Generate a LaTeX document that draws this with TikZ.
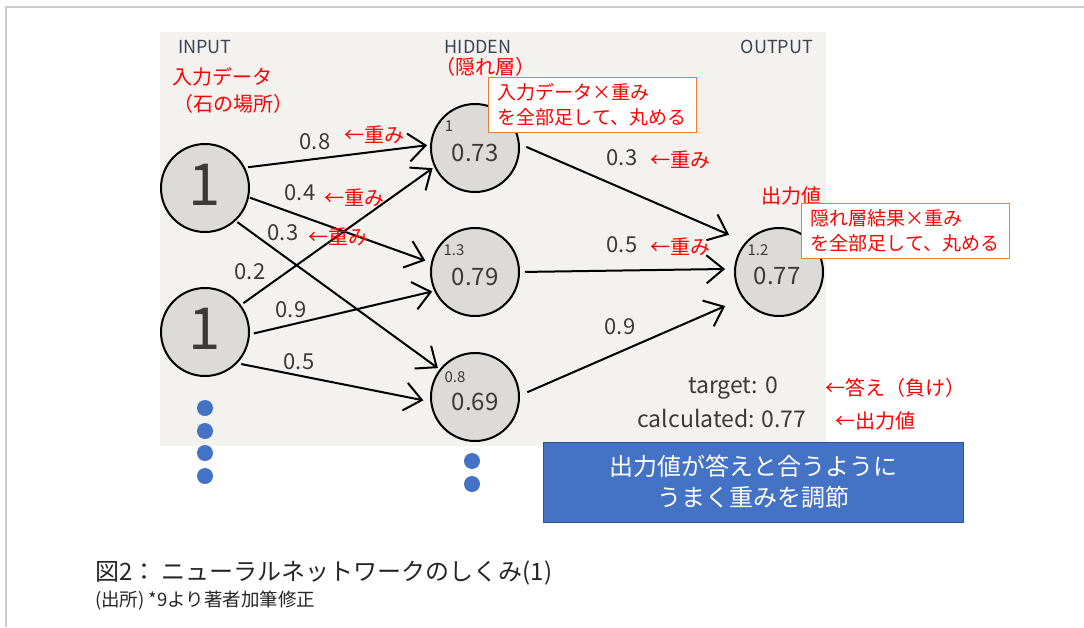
\documentclass[tikz,border=0pt]{standalone}
\usepackage{fontspec}
\setmainfont{Noto Sans CJK JP}
\usetikzlibrary{arrows.meta}

\definecolor{panelgray}{HTML}{F3F2EF}
\definecolor{nodegray}{HTML}{DCDBD8}
\definecolor{framegray}{HTML}{CBCBCB}
\definecolor{labelgray}{HTML}{3A3A3A}
\definecolor{headgray}{HTML}{3B4252}
\definecolor{boxorange}{HTML}{ED7D31}
\definecolor{boxblue}{HTML}{4472C4}
\definecolor{notered}{HTML}{FF0000}

\newcommand{\fsz}[2]{\fontsize{#1}{#2}\selectfont}

\begin{document}
\begin{tikzpicture}[x=1pt, y=-1pt,
    unit/.style={circle, draw=black, line width=2pt, fill=nodegray, minimum size=88pt, inner sep=0pt},
    wlink/.style={-{Straight Barb[length=17pt,width=28pt]}, line width=2pt},
    value/.style={text=labelgray, font=\fsz{24}{28}},
    wlabel/.style={text=labelgray, font=\fsz{22}{26}},
    bias/.style={text=labelgray, font=\fsz{15}{17}},
    note/.style={text=notered, font=\fsz{20}{24}},
    head/.style={text=headgray, font=\fsz{18}{22}},
    notebox/.style={draw=boxorange, line width=1.2pt, fill=white, text=notered, font=\fsz{19}{25},
      align=left, text width=190pt, inner xsep=9pt, inner ysep=2pt, minimum height=55pt},
    dot/.style={circle, fill=boxblue, minimum size=16pt, inner sep=0pt}]
    \useasboundingbox (0,0) rectangle (1084,627);

    % ===== frame and panel =====
    \draw[framegray, line width=1.5pt] (6,627) -- (6,7) -- (1084,7);
    \fill[panelgray] (160,32) rectangle (826,446);

    % ===== layer heads =====
    \node[head] (inhead) at (205,47) {INPUT};
    \node[head] (hidhead) at (478,47) {HIDDEN};
    \node[head] (outhead) at (777,47) {OUTPUT};
    \node[note] (indata) at (222,77) {入力データ};
    \node[note] (inplace) at (233,104) {（石の場所）};
    \node[note] (hidname) at (485,67) {（隠れ層）};

    % ===== input =====
    \def\xI{205}
    \node[unit] (i1) at (\xI,188) {};
    \node[text=labelgray, font=\fsz{58}{62}] (i1v) at (\xI,185) {1};
    \node[unit] (i2) at (\xI,332) {};
    \node[text=labelgray, font=\fsz{58}{62}] (i2v) at (\xI,329) {1};
    \foreach \y [count=\k] in {408,431,453,476}
        \node[dot] (idot\k) at (\xI,\y) {};

    % ===== hidden =====
    \def\xH{475}
    \node[unit] (h1) at (\xH,148) {};
    \node[value] (h1v) at (\xH,153) {0.73};
    \node[bias] (h1b) at (449,126) {1};
    \node[unit] (h2) at (\xH,272) {};
    \node[value] (h2v) at (\xH,277) {0.79};
    \node[bias] (h2b) at (454,250) {1.3};
    \node[unit] (h3) at (\xH,397) {};
    \node[value] (h3v) at (\xH,402) {0.69};
    \node[bias] (h3b) at (455,377) {0.8};
    \foreach \y [count=\k] in {461,484}
        \node[dot] (hdot\k) at (472,\y) {};

    % ===== output =====
    \node[unit] (o) at (779,272) {};
    \node[value] (ov) at (777,276) {0.77};
    \node[bias] (ob) at (758,250) {1.2};
    \node[note] (outname) at (791,196) {出力値};

    % ===== weights =====
    \draw[wlink, shorten <=3pt, shorten >=3pt] (i1.27) -- (h1.176);
    \draw[wlink, shorten <=1pt, shorten >=6pt] (i1.-12) -- (h2.168);
    \draw[wlink, shorten <=2pt, shorten >=2pt] (i1.-47) -- (h3.142);
    \draw[wlink, shorten <=3pt, shorten >=2pt] (i2.37) -- (h1.205);
    \draw[wlink, shorten <=4pt, shorten >=2pt] (i2.-3) -- (h2.205);
    \draw[wlink, shorten <=4pt, shorten >=7pt] (i2.-44) -- (h3.186);
    \draw[wlink, shorten <=7pt, shorten >=18pt] (h1.5) -- (o.138);
    \draw[wlink, shorten <=5pt, shorten >=9pt] (h2.0) -- (o.176);
    \draw[wlink, shorten <=8pt, shorten >=19pt] (h3.2) -- (o.216);

    \node[wlabel] (w11) at (315,142) {0.8};
    \node[wlabel] (w12) at (300,193) {0.4};
    \node[wlabel] (w13) at (283,233) {0.3};
    \node[wlabel] (w21) at (250,272) {0.2};
    \node[wlabel] (w22) at (291,310) {0.9};
    \node[wlabel] (w23) at (299,362) {0.5};
    \node[wlabel] (v1) at (622,158) {0.3};
    \node[wlabel] (v2) at (622,245) {0.5};
    \node[wlabel] (v3) at (620,327) {0.9};

    \node[note] (n11) at (374,135) {←重み};
    \node[note] (n12) at (354,198) {←重み};
    \node[note] (n13) at (338,237) {←重み};
    \node[note] (nv1) at (680,160) {←重み};
    \node[note] (nv2) at (680,247) {←重み};

    % ===== notes =====
    \node[notebox, anchor=north west] (sumhid) at (488,77) {入力データ×重み\\を全部足して、丸める};
    \node[notebox, anchor=north west] (sumout) at (801,203) {隠れ層結果×重み\\を全部足して、丸める};

    \node[wlabel, font=\fsz{23}{27}] (target) at (733,388) {target: 0};
    \node[wlabel, font=\fsz{23}{27}] (calc) at (722,418) {calculated: 0.77};
    \node[note] (ntarget) at (895,388) {←答え（負け）};
    \node[note] (ncalc) at (875,421) {←出力値};

    \node[draw=boxblue!70!black, line width=1pt, fill=boxblue, text=white, minimum width=420pt,
        minimum height=80pt, font=\fsz{24}{31}, align=center] (adjust) at (753,482)
        {出力値が答えと合うように\\うまく重みを調節};

    % ===== caption =====
    \node[anchor=west, text=black!85, font=\fsz{24}{28}, inner sep=0pt] (cap) at (95,573)
        {図2： ニューラルネットワークのしくみ(1)};
    \node[anchor=west, text=black!85, font=\fsz{18.5}{22}, inner sep=0pt] (src) at (95,601)
        {(出所) *9より著者加筆修正};
\end{tikzpicture}
\end{document}
